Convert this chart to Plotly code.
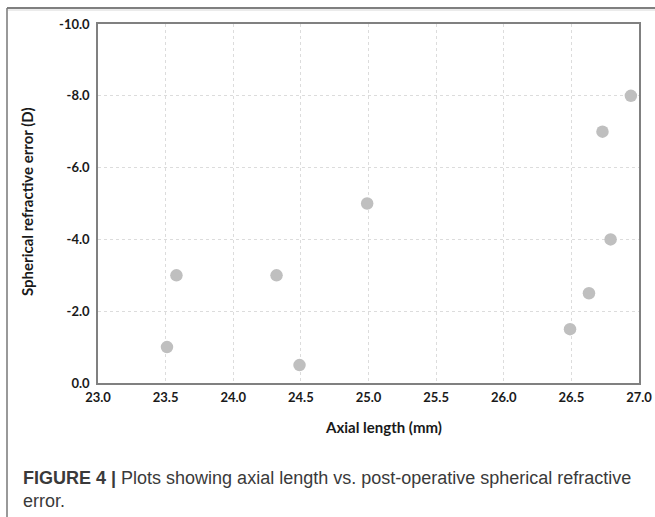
import plotly.graph_objects as go

axial_length = [23.51, 23.58, 24.32, 24.49, 24.99, 26.49, 26.63, 26.73, 26.79, 26.94]
refractive_error = [-1.0, -3.0, -3.0, -0.5, -5.0, -1.5, -2.5, -7.0, -4.0, -8.0]

x_ticks = [23.0, 23.5, 24.0, 24.5, 25.0, 25.5, 26.0, 26.5, 27.0]
y_ticks = [0.0, -2.0, -4.0, -6.0, -8.0, -10.0]
x_tick_labels = ["23.0", "23.5", "24.0", "24.5", "25.0", "25.5", "26.0", "26.5", "27.0"]
y_tick_labels = ["0.0", "-2.0", "-4.0", "-6.0", "-8.0", "-10.0"]

W, H = 655, 517
L, R, T, B = 98, 639, 24, 383
pw, ph = R - L, B - T


def px(x):
    return (x - L) / pw


def py(y):
    return (B - y) / ph


fig = go.Figure()
fig.add_trace(go.Scatter(
    x=axial_length, y=refractive_error, mode="markers",
    marker=dict(size=12.5, color="#bfbfbf", line=dict(width=0)),
    showlegend=False, cliponaxis=False,
))

tick_font = dict(family="Lato", size=13, color="#1a1a1a")
fig.update_xaxes(
    range=[23, 27], tickvals=x_ticks, ticktext=["<b>%s</b>" % t for t in x_tick_labels],
    showgrid=True, gridcolor="#dcdcdc", griddash="dot", gridwidth=1,
    showline=True, linecolor="#808080", linewidth=1.5, mirror=True,
    ticks="", tickfont=tick_font, zeroline=False, ticklabelstandoff=2,
    automargin=False,
)
fig.update_yaxes(
    range=[0, -10], tickvals=y_ticks, ticktext=["<b>%s</b>" % t for t in y_tick_labels],
    showgrid=True, gridcolor="#dcdcdc", griddash="dot", gridwidth=1,
    showline=True, linecolor="#808080", linewidth=1.5, mirror=True,
    ticks="", tickfont=tick_font, zeroline=False, ticklabelstandoff=4,
    automargin=False,
)

fig.add_annotation(text="<b>Axial length (mm)</b>", xref="paper", yref="paper",
                   x=px(383), y=py(427), xanchor="center", yanchor="middle",
                   showarrow=False,
                   font=dict(family="Lato", size=15, color="#1a1a1a"))
fig.add_annotation(text="<b>Spherical refractive error (D)</b>", xref="paper", yref="paper",
                   x=px(27), y=py(202), xanchor="center", yanchor="middle",
                   showarrow=False, textangle=-90,
                   font=dict(family="Lato", size=15, color="#1a1a1a"))

fig.add_annotation(
    text="<b>FIGURE 4 |</b> Plots showing axial length vs. post-operative spherical refractive<br>error.",
    xref="paper", yref="paper", x=px(21), y=py(466), xanchor="left", yanchor="top",
    align="left", showarrow=False,
    font=dict(family="Liberation Sans", size=18, color="#3a3a3a"),
)

# outer frame lines
fig.add_shape(type="line", xref="paper", yref="paper",
              x0=px(7), x1=px(660), y0=py(8), y1=py(8),
              line=dict(color="#555555", width=1.5))
fig.add_shape(type="line", xref="paper", yref="paper",
              x0=px(8), x1=px(660), y0=py(10), y1=py(10),
              line=dict(color="#d8d8d8", width=1))
fig.add_shape(type="line", xref="paper", yref="paper",
              x0=px(7), x1=px(7), y0=py(8), y1=py(520),
              line=dict(color="#777777", width=1.5))

fig.update_layout(
    width=W, height=H,
    margin=dict(l=L, r=W - R, t=T, b=H - B, autoexpand=False),
    paper_bgcolor="white", plot_bgcolor="white",
)

fig.write_html("out.html", config={"displayModeBar": False},
               post_script="document.body.style.margin='0';")
